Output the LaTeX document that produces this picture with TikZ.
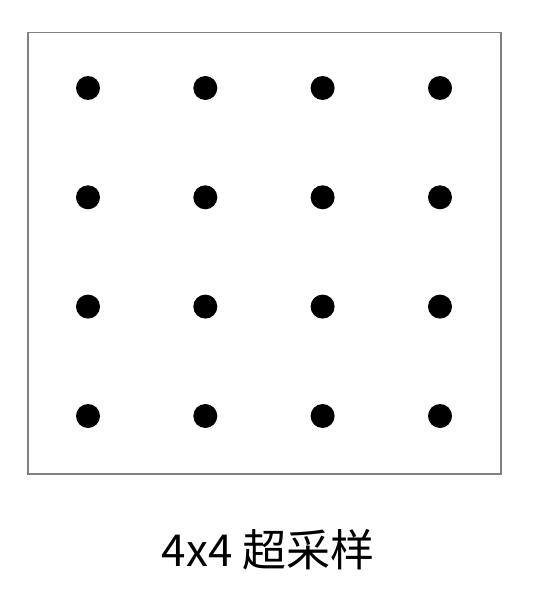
\documentclass[tikz,border=0pt]{standalone}
\usepackage{fontspec}
\newfontfamily\cjk{Noto Sans CJK SC}
\begin{document}
\begin{tikzpicture}[x=1pt,y=-1pt,
  frame/.style={draw=black!50,line width=1.5pt},
  sample/.style={circle,fill=black,inner sep=0pt,minimum size=24pt},
  caption/.style={font=\cjk\fontsize{44}{52}\selectfont,anchor=base,inner sep=0pt}]
\useasboundingbox (0,0) rectangle (542,596);
\node[frame,rectangle,minimum width=473pt,minimum height=441pt,anchor=north west,inner sep=0pt] (box) at (27,32) {};
\foreach \i/\x in {1/88,2/205.3,3/322.6,4/440}{
  \foreach \j/\y in {1/88,2/197.3,3/306.6,4/416}{
    \node[sample] (d\i\j) at (\x,\y) {};
  }
}
\node[caption] (label) at (268,566) {4x4 超采样};
\end{tikzpicture}
\end{document}
